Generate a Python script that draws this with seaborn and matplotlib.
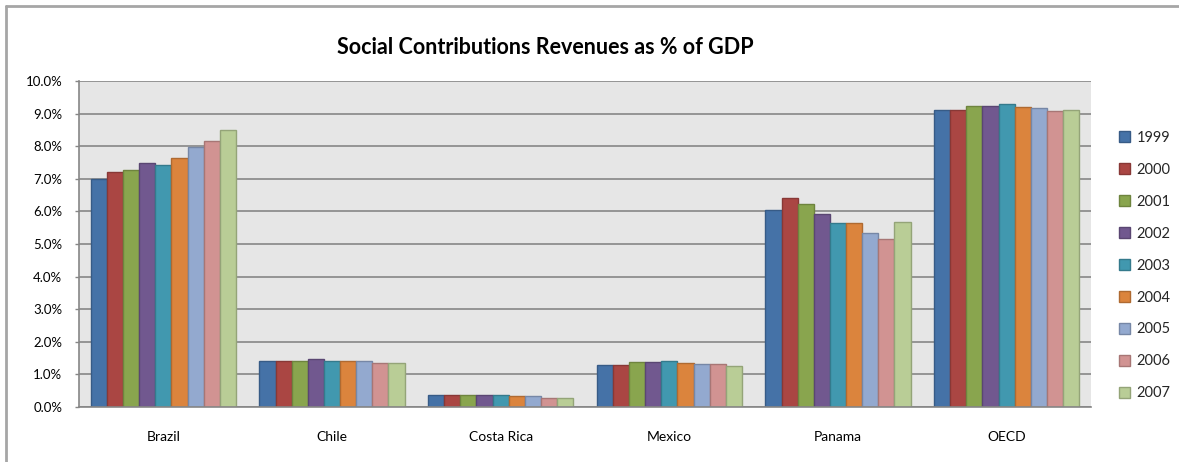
import matplotlib
matplotlib.use("Agg")
import matplotlib.pyplot as plt
import matplotlib.colors as mcolors
from matplotlib.patches import Rectangle
from matplotlib.lines import Line2D
import seaborn as sns
import pandas as pd

# Social contributions revenue, % of GDP
countries = ["Brazil", "Chile", "Costa Rica", "Mexico", "Panama", "OECD"]
years = ["1999", "2000", "2001", "2002", "2003", "2004", "2005", "2006", "2007"]

brazil = [6.98, 7.22, 7.26, 7.50, 7.41, 7.63, 7.98, 8.15, 8.50]
chile = [1.42, 1.42, 1.42, 1.46, 1.42, 1.42, 1.42, 1.35, 1.34]
costa_rica = [0.37, 0.37, 0.37, 0.37, 0.37, 0.33, 0.33, 0.29, 0.29]
mexico = [1.30, 1.30, 1.38, 1.38, 1.42, 1.35, 1.31, 1.31, 1.27]
panama = [6.04, 6.40, 6.24, 5.91, 5.63, 5.63, 5.35, 5.14, 5.67]
oecd = [9.11, 9.11, 9.24, 9.24, 9.28, 9.20, 9.16, 9.08, 9.11]

year_colors = ["#4572A7", "#AA4643", "#89A54E", "#71588F", "#4198AF",
               "#DB843D", "#93A9CF", "#D19392", "#B9CD96"]

series = [brazil, chile, costa_rica, mexico, panama, oecd]
rows = []
for country, vals in zip(countries, series):
    for yr, v in zip(years, vals):
        rows.append({"country": country, "year": yr, "value": v})
df = pd.DataFrame(rows)

sns.set_theme(style="white")
plt.rcParams["font.family"] = ["Lato", "DejaVu Sans"]

fig = plt.figure(figsize=(11.79, 4.62), dpi=100)
fig.patch.set_linewidth(0)
ax = fig.add_axes([79 / 1179, 1 - 407 / 462, (1091 - 79) / 1179, (407 - 81) / 462])
ax.set_facecolor("#E6E6E6")

sns.barplot(data=df, x="country", y="value", hue="year", order=countries,
            hue_order=years, palette=year_colors, width=0.86, saturation=1,
            ax=ax, legend=False)

def darker(c, f=0.8):
    r, g, b = mcolors.to_rgb(c)
    return (r * f, g * f, b * f)

for i, cont in enumerate(ax.containers):
    for p in cont.patches:
        p.set_edgecolor(darker(year_colors[i]))
        p.set_linewidth(1.0)

ax.set_ylim(0, 10)
ax.set_yticks(range(0, 11))
ax.set_yticklabels([f"{t:.1f}%" for t in range(0, 11)], fontsize=9.5, color="#000000")
ax.yaxis.grid(True, color="#868686", linewidth=1.2)
ax.set_axisbelow(True)
ax.set_xlabel("")
ax.set_ylabel("")
ax.tick_params(axis="x", labelsize=10, length=0, pad=17, colors="#000000")
ax.tick_params(axis="y", length=3, width=1, color="#868686", pad=9, left=True)
for side in ["right", "top"]:
    ax.spines[side].set_visible(False)
for side in ["left", "bottom"]:
    ax.spines[side].set_color("#868686")
    ax.spines[side].set_linewidth(1.2)

handles = [Rectangle((0, 0), 1, 1, facecolor=c, edgecolor=darker(c)) for c in year_colors]
fig.legend(handles, years, loc="upper left", bbox_to_anchor=(1113 / 1179, 1 - 125 / 462),
           frameon=False, fontsize=10.5, handlelength=0.75, handleheight=0.75,
           handletextpad=0.45, labelspacing=1.23, borderaxespad=0)

fig.text(545 / 1179, 1 - 47 / 462, "Social Contributions Revenues as % of GDP",
         ha="center", va="center", fontsize=15.5, fontweight="bold", color="#000000")

# chart frame (top and left edges)
frame_col = "#A6A6A6"
fig.add_artist(Line2D([6 / 1179, 1.0], [1 - 6 / 462, 1 - 6 / 462],
                      transform=fig.transFigure, color=frame_col, linewidth=2))
fig.add_artist(Line2D([6 / 1179, 6 / 1179], [0.0, 1 - 6 / 462],
                      transform=fig.transFigure, color=frame_col, linewidth=2))

fig.savefig("out.png", dpi=100)
